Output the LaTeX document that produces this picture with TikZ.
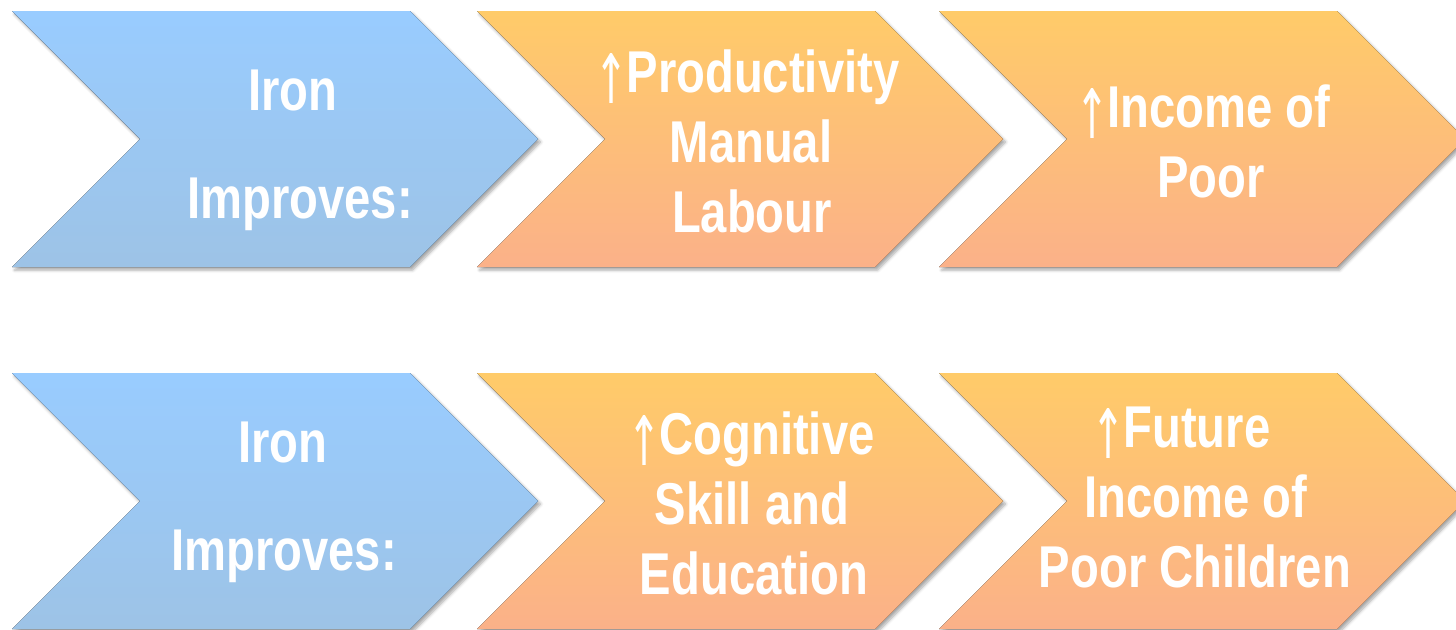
\documentclass[tikz,border=0pt]{standalone}
\usepackage{fontspec}
\setmainfont{Liberation Sans}[FakeStretch=0.8]
\newfontfamily\arrowfont{DejaVu Sans}
\usetikzlibrary{shadows.blur}

\definecolor{ironA}{HTML}{99CCFF}
\definecolor{ironB}{HTML}{9DC3E6}
\definecolor{gainA}{HTML}{FFCB69}
\definecolor{gainB}{HTML}{FBB189}

% tall thin up arrow in front of a line
\newcommand{\up}{\hspace{-6pt}\raisebox{-11pt}{\resizebox*{34pt}{50pt}{\raisebox{\depth}{\mdseries\arrowfont ↑}}}\hspace{-2pt}}

\tikzset{
    chevron/.style={blur shadow={shadow xshift=2.5pt,shadow yshift=-3pt,shadow blur radius=3pt,shadow opacity=35}},
    ironchev/.style={chevron,top color=ironA,bottom color=ironB},
    gainchev/.style={chevron,top color=gainA,bottom color=gainB},
    chevtext/.style={text=white,font=\fontsize{59}{70}\selectfont\bfseries,anchor=base,inner sep=0pt}
}

\begin{document}
\begin{tikzpicture}[x=1pt,y=-1pt]
  \useasboundingbox (0,0) rectangle (1456,629);

  % two rows of chevrons, 45 degree sides
  \foreach \row in {11,373}{
    \fill[ironchev] (12,\row) -- ++(398,0) -- ++(128,128) -- ++(-128,128)
      -- ++(-398,0) -- ++(128,-128) -- cycle;
    \foreach \x in {477,939}{
      \fill[gainchev] (\x,\row) -- ++(398,0) -- ++(128,128) -- ++(-128,128)
        -- ++(-398,0) -- ++(128,-128) -- cycle;
    }
  }

  % text lines, placed on their baselines
  \foreach \x/\y/\t [count=\i] in {
      293/110/Iron, 300/218/Improves:,
      750/92/{\up Productivity}, 751/162/Manual, 752/232/Labour,
      1206/127/{\up Income of}, 1211/197/Poor,
      283/462/Iron, 284/570/Improves:,
      754/454/{\up Cognitive}, 752/524/Skill and, 754/594/Education,
      1184/447/{\up Future}, 1196/517/Income of, 1195/587/Poor Children}{
    \node[chevtext] (line\i) at (\x,\y) {\t};
  }
\end{tikzpicture}
\end{document}
